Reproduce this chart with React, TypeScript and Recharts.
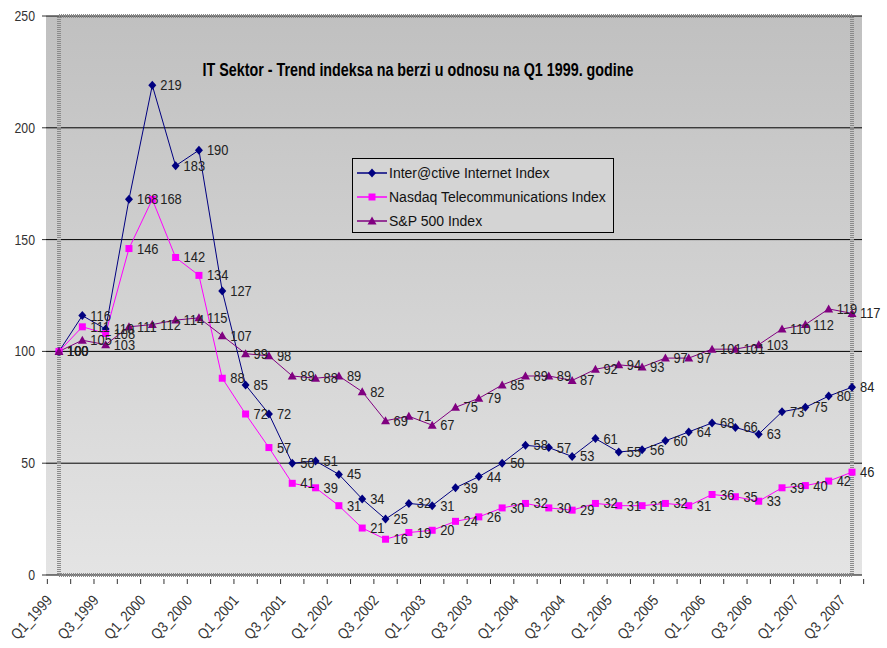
import React from 'react'
import { CartesianGrid, LabelList, Legend, Line, LineChart, ReferenceArea, XAxis, YAxis } from 'recharts'

const FONT = "'Liberation Sans', Arial, sans-serif"

const quarters = [
    'Q1_1999', 'Q2_1999', 'Q3_1999', 'Q4_1999',
    'Q1_2000', 'Q2_2000', 'Q3_2000', 'Q4_2000',
    'Q1_2001', 'Q2_2001', 'Q3_2001', 'Q4_2001',
    'Q1_2002', 'Q2_2002', 'Q3_2002', 'Q4_2002',
    'Q1_2003', 'Q2_2003', 'Q3_2003', 'Q4_2003',
    'Q1_2004', 'Q2_2004', 'Q3_2004', 'Q4_2004',
    'Q1_2005', 'Q2_2005', 'Q3_2005', 'Q4_2005',
    'Q1_2006', 'Q2_2006', 'Q3_2006', 'Q4_2006',
    'Q1_2007', 'Q2_2007', 'Q3_2007',
]

const internetIndex = [
    100, 116, 110, 168, 219, 183, 190, 127, 85, 72,
    50, 51, 45, 34, 25, 32, 31, 39, 44, 50,
    58, 57, 53, 61, 55, 56, 60, 64, 68, 66,
    63, 73, 75, 80, 84,
]

const nasdaqTelecom = [
    100, 111, 108, 146, 168, 142, 134, 88, 72, 57,
    41, 39, 31, 21, 16, 19, 20, 24, 26, 30,
    32, 30, 29, 32, 31, 31, 32, 31, 36, 35,
    33, 39, 40, 42, 46,
]

const sp500 = [
    100, 105, 103, 111, 112, 114, 115, 107, 99, 98,
    89, 88, 89, 82, 69, 71, 67, 75, 79, 85,
    89, 89, 87, 92, 94, 93, 97, 97, 101, 101,
    103, 110, 112, 119, 117,
]

const yTicks = [0, 50, 100, 150, 200, 250]

const data = quarters.map((q, i) => ({
    q,
    internet: internetIndex[i],
    nasdaq: nasdaqTelecom[i],
    sp: sp500[i],
}))

const NAVY = '#000080'
const PINK = '#ff00ff'
const PURPLE = '#800080'

const Diamond = ({ cx, cy, fill }: any) => (
    <path d={`M${cx},${cy - 4.5} L${cx + 4},${cy} L${cx},${cy + 4.5} L${cx - 4},${cy} Z`} fill={fill} />
)
const Square = ({ cx, cy, fill }: any) => (
    <rect x={cx - 3.5} y={cy - 3.5} width={7} height={7} fill={fill} />
)
const Triangle = ({ cx, cy, fill }: any) => (
    <path d={`M${cx},${cy - 4.5} L${cx + 4.5},${cy + 3.5} L${cx - 4.5},${cy + 3.5} Z`} fill={fill} />
)

// labels in the original are a narrow face, so squeeze them a bit
const renderLabel = (props: any) =>
{
    const { x, y, value } = props
    return (
        <text transform={`translate(${x + 8},${y + 5}) scale(0.86,1)`} fontSize={15} fontFamily={FONT} fill="#222">
            {value}
        </text>
    )
}

const HALF_BAND = 11.65

const XTick = (props: any) =>
{
    const { x, y, payload } = props
    const last = payload.index === quarters.length - 1
    return (
        <g>
            <line x1={x - HALF_BAND} x2={x - HALF_BAND} y1={y - 4} y2={y + 1} stroke="#333" />
            {last && <line x1={x + HALF_BAND} x2={x + HALF_BAND} y1={y - 4} y2={y + 1} stroke="#333" />}
            {payload.index % 2 === 0 && (
                <text
                    transform={`translate(${x - 6},${y + 18}) rotate(-48) scale(0.86,1)`}
                    textAnchor="end"
                    fontSize={15}
                    fontFamily={FONT}
                    fill="#333"
                >
                    {payload.value}
                </text>
            )}
        </g>
    )
}

const YTick = (props: any) =>
{
    const { y, payload } = props
    return (
        <g>
            <line x1={42} x2={46} y1={y} y2={y} stroke="#333" />
            <text
                transform={`translate(35,${y + 5}) scale(0.82,1)`}
                textAnchor="end"
                fontSize={15}
                fontFamily={FONT}
                fill="#333"
            >
                {payload.value}
            </text>
        </g>
    )
}

const legendItems = [
    { name: 'Inter@ctive Internet Index', color: NAVY, Shape: Diamond },
    { name: 'Nasdaq Telecommunications Index', color: PINK, Shape: Square },
    { name: 'S&P 500 Index', color: PURPLE, Shape: Triangle },
]

const renderLegend = () => (
    <div
        style={{
            boxSizing: 'border-box',
            width: 262,
            height: 75,
            border: '1px solid #000',
            background: '#d4d4d4',
            paddingTop: 2,
            fontFamily: FONT,
            fontSize: 14,
            color: '#111',
        }}
    >
        {legendItems.map(({ name, color, Shape }) => (
            <div key={name} style={{ display: 'flex', alignItems: 'center', height: 24 }}>
                <svg width={30} height={12} style={{ marginLeft: 4, marginRight: 2, flex: 'none' }}>
                    <line x1={0} x2={30} y1={6} y2={6} stroke={color} strokeWidth={1.5} />
                    <Shape cx={15} cy={6} fill={color} />
                </svg>
                <span style={{ whiteSpace: 'nowrap' }}>{name}</span>
            </div>
        ))}
    </div>
)

export default function App()
{
    return (
        <div style={{ position: 'absolute', left: 0, top: 0, width: 887, height: 648, background: '#fff' }}>
            <LineChart
                width={887}
                height={648}
                data={data}
                margin={{ top: 16, right: 25, bottom: 0, left: 0 }}
            >
                <defs>
                    <linearGradient id="plotBg" x1="0" y1="0" x2="0" y2="1">
                        <stop offset="0%" stopColor="#c0c0c0" />
                        <stop offset="100%" stopColor="#e4e4e4" />
                    </linearGradient>
                </defs>
                <CartesianGrid vertical={false} stroke="#000" fill="url(#plotBg)" fillOpacity={1} />
                <ReferenceArea y1={0} y2={250} fill="none" stroke="#8a8a8a" strokeWidth={4} strokeDasharray="1 1" />
                <XAxis
                    dataKey="q"
                    interval={0}
                    height={73}
                    padding={{ left: 13, right: 10 }}
                    axisLine={false}
                    tickLine={false}
                    tick={<XTick />}
                />
                <YAxis
                    domain={[0, 250]}
                    ticks={yTicks}
                    width={46}
                    axisLine={false}
                    tickLine={false}
                    tick={<YTick />}
                />
                <Legend
                    layout="vertical"
                    align="center"
                    verticalAlign="middle"
                    content={renderLegend}
                    wrapperStyle={{ left: 352, top: 158, width: 262 }}
                />
                <Line
                    dataKey="internet"
                    name="Inter@ctive Internet Index"
                    stroke={NAVY}
                    strokeWidth={1}
                    isAnimationActive={false}
                    dot={(p: any) => <Diamond key={p.index} cx={p.cx} cy={p.cy} fill={NAVY} />}
                >
                    <LabelList dataKey="internet" content={renderLabel} />
                </Line>
                <Line
                    dataKey="nasdaq"
                    name="Nasdaq Telecommunications Index"
                    stroke={PINK}
                    strokeWidth={1}
                    isAnimationActive={false}
                    dot={(p: any) => <Square key={p.index} cx={p.cx} cy={p.cy} fill={PINK} />}
                >
                    <LabelList dataKey="nasdaq" content={renderLabel} />
                </Line>
                <Line
                    dataKey="sp"
                    name="S&P 500 Index"
                    stroke={PURPLE}
                    strokeWidth={1}
                    isAnimationActive={false}
                    dot={(p: any) => <Triangle key={p.index} cx={p.cx} cy={p.cy} fill={PURPLE} />}
                >
                    <LabelList dataKey="sp" content={renderLabel} />
                </Line>
            </LineChart>
            <div
                style={{
                    position: 'absolute',
                    left: 0,
                    top: 61,
                    width: 836,
                    textAlign: 'center',
                    fontFamily: FONT,
                    fontWeight: 'bold',
                    fontSize: 18,
                    lineHeight: '18px',
                    color: '#000',
                    transform: 'scaleX(0.795)',
                    transformOrigin: '418px 0',
                    whiteSpace: 'nowrap',
                }}
            >
                IT Sektor - Trend indeksa na berzi u odnosu na Q1 1999. godine
            </div>
        </div>
    )
}
